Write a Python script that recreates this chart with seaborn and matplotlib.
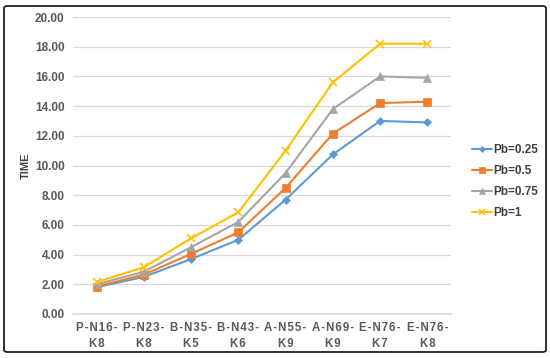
import matplotlib
matplotlib.use("Agg")
import matplotlib.pyplot as plt
import seaborn as sns
import pandas as pd
from matplotlib.patches import FancyBboxPatch

categories = ["P-N16-\nK8", "P-N23-\nK8", "B-N35-\nK5", "B-N43-\nK6",
              "A-N55-\nK9", "A-N69-\nK9", "E-N76-\nK7", "E-N76-\nK8"]
pb_025 = [1.80, 2.50, 3.70, 5.00, 7.70, 10.75, 13.00, 12.90]
pb_05 = [1.85, 2.65, 4.05, 5.50, 8.50, 12.15, 14.20, 14.30]
pb_075 = [2.00, 2.85, 4.50, 6.20, 9.50, 13.80, 16.00, 15.90]
pb_1 = [2.15, 3.15, 5.10, 6.85, 11.00, 15.60, 18.20, 18.20]
series_names = ["Pb=0.25", "Pb=0.5", "Pb=0.75", "Pb=1"]

sns.set_theme(style="white")
plt.rcParams['font.family'] = ['Liberation Sans', 'DejaVu Sans']

rows = []
for name, vals in zip(series_names, [pb_025, pb_05, pb_075, pb_1]):
    for i, v in enumerate(vals):
        rows.append({"pos": i, "TIME": v, "series": name})
df = pd.DataFrame(rows)

palette = {"Pb=0.25": "#5B9BD5", "Pb=0.5": "#ED7D31", "Pb=0.75": "#A5A5A5", "Pb=1": "#FFC000"}
markers = {"Pb=0.25": "D", "Pb=0.5": "s", "Pb=0.75": "^", "Pb=1": "x"}
sizes_m = {"Pb=0.25": 4, "Pb=0.5": 6, "Pb=0.75": 6, "Pb=1": 5.5}

fig = plt.figure(figsize=(5.5, 3.58), dpi=100)
ax = fig.add_axes([73/550, 1 - 314/358, (451-73)/550, (314-17)/358])

for name in series_names:
    sub = df[df.series == name]
    sns.lineplot(data=sub, x="pos", y="TIME", ax=ax, color=palette[name],
                 marker=markers[name], markersize=sizes_m[name], linewidth=1.5,
                 markeredgecolor=palette[name], markeredgewidth=1.1 if name == "Pb=1" else 0.5,
                 label=name)

ax.set_xlim(-0.5, 7.5)
ax.set_ylim(0, 20)
ax.set_yticks(range(0, 21, 2))
ax.set_yticklabels([f"{v:.2f}" for v in range(0, 21, 2)], fontsize=8.5,
                   fontweight="bold", color="#595959")
ax.set_xticks(range(8))
spaced = ["\u200a".join(c).replace("\u200a\n\u200a", "\n") for c in categories]
ax.set_xticklabels(spaced, fontsize=8.3, fontweight="bold", color="#595959",
                   linespacing=1.45)
ax.set_xlabel("")
ax.set_ylabel("TIME", fontsize=8, fontweight="bold", color="#404040", labelpad=3)
ax.grid(axis="y", color="#D9D9D9", linewidth=0.9)
ax.set_axisbelow(True)
for s in ["top", "right", "left"]:
    ax.spines[s].set_visible(False)
ax.spines["bottom"].set_color("#D9D9D9")
ax.tick_params(axis="both", length=0, pad=6)

leg = ax.legend(loc="upper left", bbox_to_anchor=((467-73)/378, 1 - (139-17)/297),
                frameon=False, fontsize=8.5, handlelength=1.7, labelspacing=0.78,
                handletextpad=0.15, borderaxespad=0, markerscale=0.75)
for t in leg.get_texts():
    t.set_fontweight("bold")
    t.set_color("#404040")

border = FancyBboxPatch((4/550, 6/358), 542/550, 346/358,
                        boxstyle="round,pad=0,rounding_size=0.006",
                        transform=fig.transFigure, fill=False,
                        edgecolor="#202020", linewidth=1.3)
fig.patches.append(border)

fig.savefig("out.png", dpi=100)
